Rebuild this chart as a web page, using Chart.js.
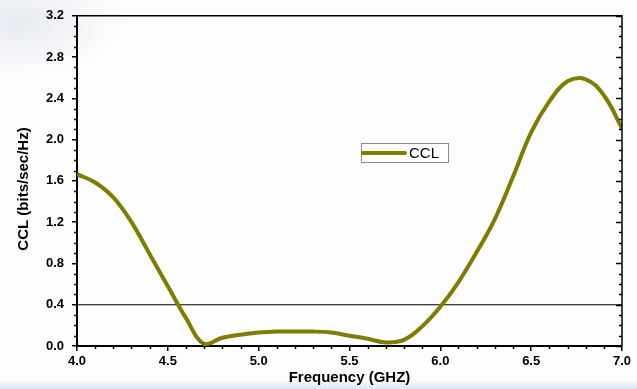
<!DOCTYPE html>
<html>
<head>
<meta charset="utf-8">
<script src="https://cdn.jsdelivr.net/npm/chart.js@4.4.1/dist/chart.umd.min.js"></script>
<style>
  html, body { margin: 0; padding: 0; }
  body {
    width: 637px; height: 389px; overflow: hidden;
    background:
      radial-gradient(ellipse 110px 55px at 15px 22px, rgba(205,212,225,0.45), rgba(255,255,255,0) 100%),
      linear-gradient(to top, rgba(205,220,240,0.7) 0px, rgba(255,255,255,0) 10px),
      #fdfdfd;
  }
  #wrap { position: relative; width: 637px; height: 389px; }
</style>
</head>
<body>
<div id="wrap"><canvas id="cclChart"></canvas></div>
<script>
  // ── Data ──
  const FREQ = [4.0, 4.1, 4.2, 4.3, 4.4, 4.5, 4.6, 4.7, 4.8, 4.9, 5.0, 5.1, 5.2, 5.3, 5.4, 5.5,
                5.6, 5.7, 5.8, 5.9, 6.0, 6.1, 6.2, 6.3, 6.4, 6.5, 6.6, 6.7, 6.8, 6.9, 7.0];
  const CCL = [1.665, 1.585, 1.44, 1.20, 0.89, 0.58, 0.27, 0.02, 0.08, 0.11, 0.13, 0.14, 0.14, 0.14, 0.13, 0.10,
               0.07, 0.035, 0.06, 0.19, 0.38, 0.62, 0.91, 1.23, 1.64, 2.07, 2.37, 2.565, 2.585, 2.43, 2.11];
  const THRESHOLD_X = [4.0, 7.0];
  const THRESHOLD_Y = [0.4, 0.4];
  const X_MIN = 4.0, X_MAX = 7.0, X_STEP = 0.5;
  const Y_MIN = 0.0, Y_MAX = 3.2, Y_STEP = 0.4;

  const OLIVE = '#7f7c00';
  const FONT = "'Liberation Sans', Arial, sans-serif";

  // frame on top/right + minor ticks + inward ticks on the right edge
  const framePlugin = {
    id: 'frame',
    afterDraw(chart) {
      const { ctx, chartArea: a, scales: { x, y } } = chart;
      ctx.save();
      ctx.strokeStyle = '#000';
      ctx.lineWidth = 1.5;
      ctx.beginPath();
      ctx.moveTo(a.left, a.top); ctx.lineTo(a.right, a.top); ctx.lineTo(a.right, a.bottom);
      ctx.stroke();

      ctx.beginPath();
      for (let i = 0; i <= 32; i++) {
        const py = Math.round(y.getPixelForValue(i / 10)) + 0.5;
        const major = i % 4 === 0;
        if (!major) { ctx.moveTo(a.left - 3, py); ctx.lineTo(a.left, py); }
        ctx.moveTo(a.right, py); ctx.lineTo(a.right - (major ? 6 : 3), py);
      }
      for (let i = 40; i <= 70; i++) {
        if (i % 5 === 0) continue;
        const px = Math.round(x.getPixelForValue(i / 10)) + 0.5;
        ctx.moveTo(px, a.bottom); ctx.lineTo(px, a.bottom + 3);
      }
      ctx.stroke();
      ctx.restore();
    }
  };

  // boxed legend sitting inside the plot
  const boxLegendPlugin = {
    id: 'boxLegend',
    afterDraw(chart) {
      const { ctx } = chart;
      const ds = chart.data.datasets[0];
      const bx = 361, by = 143, bw = 87, bh = 19;
      ctx.save();
      ctx.fillStyle = '#fff';
      ctx.fillRect(bx, by, bw, bh);
      ctx.strokeStyle = '#8a8a8a';
      ctx.lineWidth = 1;
      ctx.strokeRect(bx + 0.5, by + 0.5, bw, bh);
      ctx.strokeStyle = ds.borderColor;
      ctx.lineWidth = 4;
      ctx.lineCap = 'round';
      ctx.beginPath();
      ctx.moveTo(bx + 2, by + 10); ctx.lineTo(bx + 44, by + 10);
      ctx.stroke();
      ctx.fillStyle = '#000';
      ctx.font = `15px ${FONT}`;
      ctx.textBaseline = 'middle';
      ctx.fillText(ds.label, bx + 48, by + 10.5);
      ctx.restore();
    }
  };

  // axis titles
  const titlesPlugin = {
    id: 'titles',
    afterDraw(chart) {
      const { ctx, chartArea: a } = chart;
      ctx.save();
      ctx.fillStyle = '#000';
      ctx.font = `bold 15px ${FONT}`;
      ctx.textAlign = 'center';
      ctx.textBaseline = 'middle';
      ctx.fillText('Frequency (GHZ)', (a.left + a.right) / 2, 378);
      ctx.translate(24, 189);
      ctx.rotate(-Math.PI / 2);
      ctx.fillText('CCL (bits/sec/Hz)', 0, 0);
      ctx.restore();
    }
  };

  new Chart(document.getElementById('cclChart'), {
    type: 'line',
    data: {
      datasets: [
        {
          label: 'CCL',
          data: FREQ.map((f, i) => ({ x: f, y: CCL[i] })),
          borderColor: OLIVE,
          borderWidth: 4,
          borderJoinStyle: 'round',
          pointRadius: 0,
          tension: 0.4,
          fill: false
        },
        {
          label: 'threshold',
          data: THRESHOLD_X.map((f, i) => ({ x: f, y: THRESHOLD_Y[i] })),
          borderColor: '#000',
          borderWidth: 1.2,
          pointRadius: 0,
          fill: false
        }
      ]
    },
    options: {
      responsive: true,
      maintainAspectRatio: false,
      animation: false,
      layout: { padding: { top: 13, right: 15, left: 0, bottom: 0 } },
      plugins: { legend: { display: false }, tooltip: { enabled: false } },
      scales: {
        x: {
          type: 'linear',
          min: X_MIN, max: X_MAX,
          afterFit: (s) => { s.height = 43; },
          afterBuildTicks: (s) => {
            s.ticks = [];
            for (let i = 0; i <= 6; i++) s.ticks.push({ value: X_MIN + i * X_STEP });
          },
          ticks: {
            color: '#000', padding: 3, maxRotation: 0,
            font: { family: FONT, size: 13, weight: 'bold' },
            callback: (v) => v.toFixed(1)
          },
          grid: { drawOnChartArea: false, drawTicks: true, tickLength: 5, color: '#000', lineWidth: 1.5 },
          border: { display: true, color: '#000', width: 2 }
        },
        y: {
          min: Y_MIN, max: Y_MAX,
          afterFit: (s) => { s.width = 77; },
          afterBuildTicks: (s) => {
            s.ticks = [];
            for (let i = 0; i <= 8; i++) s.ticks.push({ value: Y_MIN + i * Y_STEP });
          },
          ticks: {
            color: '#000', padding: 8,
            font: { family: FONT, size: 13, weight: 'bold' },
            callback: (v) => v.toFixed(1)
          },
          grid: { drawOnChartArea: false, drawTicks: true, tickLength: 5, color: '#000', lineWidth: 1.5 },
          border: { display: true, color: '#000', width: 2 }
        }
      }
    },
    plugins: [framePlugin, boxLegendPlugin, titlesPlugin]
  });
</script>
</body>
</html>
